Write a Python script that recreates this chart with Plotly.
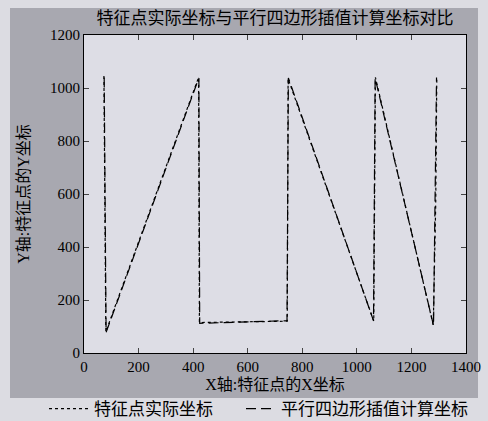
import plotly.graph_objects as go

# Data
actual_x = [73, 76, 80, 420, 423, 745, 748, 1062, 1068, 1280, 1289, 1293]
actual_y = [1045, 560, 80, 1040, 115, 120, 1035, 120, 1040, 105, 560, 1042]

interp_x = [74, 81, 421, 424, 744, 749, 1061, 1067, 1281, 1292]
interp_y = [1040, 78, 1038, 112, 122, 1038, 122, 1038, 103, 1040]

title_text = "特征点实际坐标与平行四边形插值计算坐标对比"
x_title = "X轴:特征点的X坐标"
y_title = "Y轴:特征点的Y坐标"
series_names = ["特征点实际坐标", "平行四边形插值计算坐标"]
x_ticks = [0, 200, 400, 600, 800, 1000, 1200, 1400]
y_ticks = [0, 200, 400, 600, 800, 1000, 1200]

FONT = "Liberation Serif, Noto Sans CJK SC, serif"

fig = go.Figure()
fig.add_trace(go.Scatter(x=actual_x, y=actual_y, mode="lines", name=series_names[0],
                         legend="legend",
                         line=dict(color="black", width=1.2, dash="dot")))
fig.add_trace(go.Scatter(x=interp_x, y=interp_y, mode="lines", name=series_names[1],
                         legend="legend2",
                         line=dict(color="black", width=1.2, dash="10px,5px")))

W, H = 488, 421
L, R, T, B = 84, 22, 35, 68
pw, ph = W - L - R, H - T - B


def px(x):
    return (x - L) / pw


def py(y):
    return (H - B - y) / ph


LIGHT = "#dcdce2"
GRAY = "#a8a8b0"


def strip(x0, y0, x1, y1):
    return dict(type="rect", xref="paper", yref="paper", layer="below",
                x0=px(x0), x1=px(x1), y0=py(y1), y1=py(y0),
                fillcolor=LIGHT, line=dict(width=0))


legend_common = dict(orientation="h", xanchor="left", yanchor="middle",
                     bgcolor="rgba(0,0,0,0)", font=dict(size=17, family=FONT))

fig.update_layout(
    width=W, height=H,
    margin=dict(l=L, r=R, t=T, b=B, autoexpand=False),
    paper_bgcolor=GRAY,
    plot_bgcolor="#dddde5",
    font=dict(family=FONT, color="black", size=15),
    title=dict(text=title_text, xref="paper", x=0.5, xanchor="center",
               y=1 - 18 / H, yanchor="middle",
               font=dict(size=17, family=FONT)),
    showlegend=True,
    legend=dict(x=px(44), y=py(409), itemwidth=40, **legend_common),
    legend2=dict(x=px(241), y=py(409), itemwidth=30, **legend_common),
    shapes=[
        strip(-5, 398, 495, 430),
        strip(-5, -5, 10, 430),
        strip(478, -5, 495, 430),
        strip(-5, -5, 495, 8),
    ],
)
fig.update_xaxes(range=[0, 1400], tickvals=x_ticks, ticks="inside", ticklen=5,
                 showline=True, linecolor="black", linewidth=1, mirror="ticks",
                 showgrid=False, zeroline=False, tickfont=dict(size=15, family=FONT),
                 title=dict(text=x_title, font=dict(size=16, family=FONT), standoff=4))
fig.update_yaxes(range=[0, 1200], tickvals=y_ticks, ticks="inside", ticklen=5,
                 showline=True, linecolor="black", linewidth=1, mirror="ticks",
                 showgrid=False, zeroline=False, tickfont=dict(size=15, family=FONT),
                 title=dict(text=y_title, font=dict(size=16, family=FONT), standoff=16))

fig.write_html("out.html",
               config={"displayModeBar": False},
               post_script="document.body.style.margin='0';"
                           "document.body.style.background='" + LIGHT + "';")
